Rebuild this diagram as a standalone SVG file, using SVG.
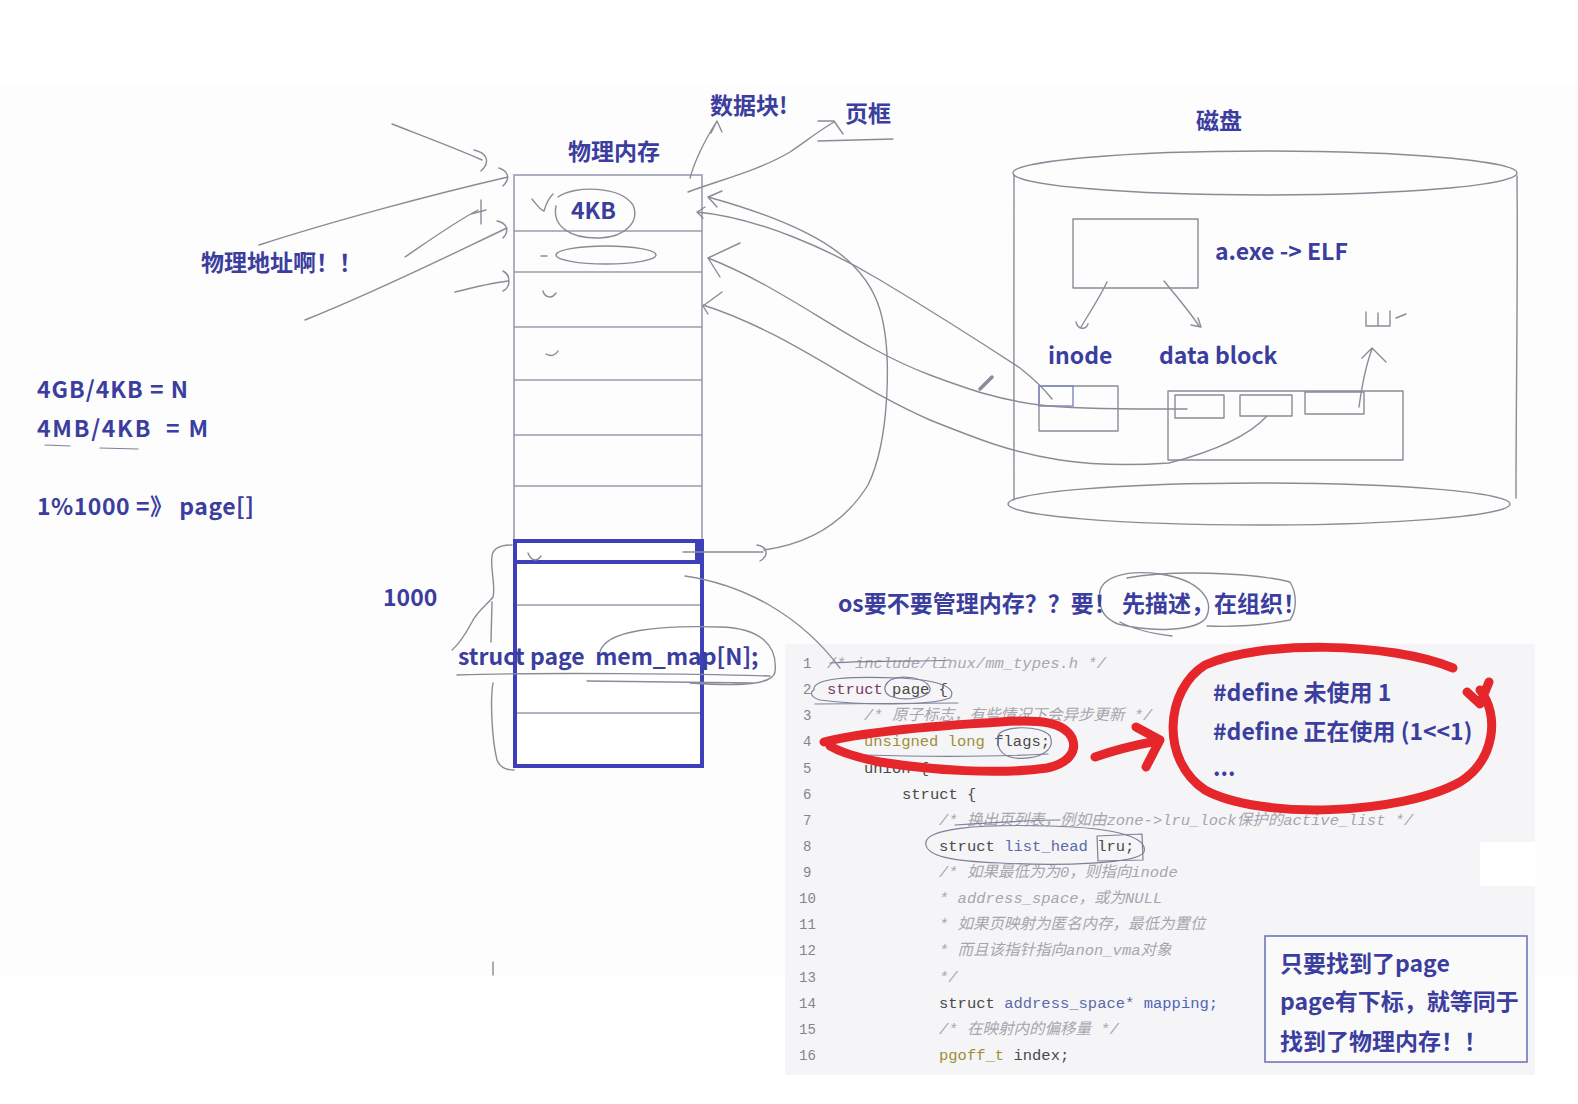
<svg xmlns="http://www.w3.org/2000/svg" width="1578" height="1104" viewBox="0 0 1578 1104">
<style>
.t{font-family:"Noto Sans CJK SC","Noto Sans",sans-serif;font-weight:700;fill:#3b3e9e;font-size:23px;white-space:pre}
.ln{fill:none;stroke:#8b8b98;stroke-width:1.4;stroke-linecap:round;stroke-linejoin:round}
.sc{fill:none;stroke:#7d8098;stroke-width:1.2;stroke-linecap:round;stroke-linejoin:round}
.box{fill:none;stroke:#9a9cae;stroke-width:1.6}
.blue{fill:none;stroke:#3d40b8;stroke-width:4}
.red{fill:none;stroke:#e5262b;stroke-width:9;stroke-linecap:round;stroke-linejoin:round}
.code{font-family:"Liberation Mono","Noto Sans CJK SC",monospace;font-size:15.5px;fill:#4a4a4a;white-space:pre}
.cm{font-style:italic;fill:#a6a6ae}
.kw{fill:#7a3a66}
.ty{fill:#a08e3a}
.id{fill:#5a6aa8}
.num{font-family:"Liberation Mono",monospace;font-size:14px;fill:#858585}
</style>
<rect width="1578" height="1104" fill="#ffffff"/>
<rect x="0" y="86" width="1578" height="890" fill="#fdfdfd"/>

<g id="code-panel">
<rect x="785" y="644" width="750" height="431" fill="#f5f5f7"/>
<rect x="1480" y="842" width="55" height="44" fill="#ffffff"/>
<g class="num">
<text x="803" y="668">1</text><text x="803" y="694">2</text><text x="803" y="720">3</text><text x="803" y="746">4</text>
<text x="803" y="773">5</text><text x="803" y="799">6</text><text x="803" y="825">7</text><text x="803" y="851">8</text>
<text x="803" y="877">9</text><text x="799" y="903">10</text><text x="799" y="929">11</text><text x="799" y="955">12</text>
<text x="799" y="982">13</text><text x="799" y="1008">14</text><text x="799" y="1034">15</text><text x="799" y="1060">16</text>
</g>
<g class="code">
<text x="827" y="668" class="cm">/* include/linux/mm_types.h */</text>
<text x="827" y="694"><tspan class="kw">struct</tspan> page {</text>
<text x="864" y="720" class="cm">/* 原子标志，有些情况下会异步更新 */</text>
<text x="864" y="746"><tspan class="ty">unsigned long</tspan> flags;</text>
<text x="864" y="773">union {</text>
<text x="902" y="799">struct {</text>
<text x="939" y="825" class="cm">/* 换出页列表，例如由zone-&gt;lru_lock保护的active_list */</text>
<text x="939" y="851">struct <tspan class="id">list_head</tspan> lru;</text>
<text x="939" y="877" class="cm">/* 如果最低为为0，则指向inode</text>
<text x="939" y="903" class="cm"> * address_space，或为NULL</text>
<text x="939" y="929" class="cm"> * 如果页映射为匿名内存，最低为置位</text>
<text x="939" y="955" class="cm"> * 而且该指针指向anon_vma对象</text>
<text x="939" y="982" class="cm"> */</text>
<text x="939" y="1008">struct <tspan class="id">address_space*</tspan> <tspan fill="#4f63b8">mapping;</tspan></text>
<text x="939" y="1034" class="cm">/* 在映射内的偏移量 */</text>
<text x="939" y="1060"><tspan class="ty">pgoff_t</tspan> index;</text>
</g>
<g class="sc">
<path d="M830,663 C880,660 920,662 950,660"/>
<path d="M814,690 C812,678 850,676 900,678 C940,680 958,688 950,698 C930,706 860,705 820,700 C810,697 810,692 814,690 Z"/>
<path d="M888,682 C895,674 925,676 930,688 C932,698 905,702 890,696 C883,692 884,686 888,682"/>
<path d="M815,704 L958,703"/>
<path d="M998,736 C1000,726 1040,724 1050,736 C1056,750 1040,760 1015,758 C1000,756 996,746 998,736"/>
<path d="M863,755 C930,757 990,757 1048,754"/>
<path d="M926,845 C922,828 980,824 1050,826 C1120,828 1148,838 1144,852 C1138,864 1060,866 1000,863 C950,861 928,856 926,845 Z"/>
<path d="M1097,836 L1142,834 L1143,860 L1098,861 Z"/>
<path d="M955,825 C1000,822 1030,820 1060,820"/>
</g>
</g>

<g id="memory">
<rect x="514" y="175" width="188" height="365" fill="#ffffff" class="box"/>
<path class="box" d="M514,231 H702 M514,272 H702 M514,327 H702 M514,380 H702 M514,435 H702 M514,486 H702"/>
<rect x="515" y="541" width="187" height="225" fill="#ffffff"/>
<path class="box" d="M517,605 H700 M517,713 H700"/>
<rect x="515" y="541" width="187" height="225" class="blue"/>
<path class="blue" d="M515,562 H700"/>
<path d="M698,541 V562" stroke="#3d40b8" stroke-width="6"/>
<path class="ln" d="M558,197 C575,185 620,186 633,205 C640,222 625,237 600,238 C570,239 552,226 556,206"/>
<path class="ln" d="M532,199 C537,205 540,210 544,211 C546,204 549,198 553,194"/>
<ellipse cx="606" cy="255" rx="50" ry="9" class="ln"/>
<path class="ln" d="M541,256 L547,256 M543,291 C545,298 552,299 556,293 M546,354 C551,357 556,355 558,351 M528,553 C531,561 537,562 541,556"/>
</g>

<g id="disk">
<ellipse cx="1265" cy="173" rx="252" ry="22" class="ln"/>
<path class="ln" d="M1014,175 C1013,280 1015,400 1014,500 M1517,176 C1518,280 1516,400 1516,498"/>
<ellipse cx="1259" cy="504" rx="251" ry="21" class="ln"/>
<rect x="1073" y="219" width="125" height="69" class="ln" fill="none"/>
<path class="ln" d="M1107,282 C1100,297 1090,312 1081,327 M1076,322 C1078,330 1086,330 1088,324 M1164,281 C1177,297 1190,312 1199,326 M1191,325 L1201,327 L1198,318"/>
<rect x="1039" y="386" width="79" height="45" class="ln" fill="none"/>
<rect x="1039" y="386" width="34" height="20" fill="none" stroke="#7f86c0" stroke-width="1.4"/>
<rect x="1168" y="391" width="235" height="69" class="ln" fill="none"/>
<rect x="1175" y="395" width="49" height="23" class="ln" fill="none"/>
<rect x="1240" y="395" width="52" height="21" class="ln" fill="none"/>
<rect x="1305" y="392" width="59" height="22" class="ln" fill="none"/>
<path class="ln" d="M1359,407 C1362,385 1366,365 1372,349 M1362,358 L1372,348 L1386,362"/>
<path class="ln" d="M1366,312 L1366,326 L1390,326 L1390,311 M1378,313 L1378,326 M1396,318 L1406,314"/>
</g>

<g id="connectors">
<path class="ln" d="M392,124 C420,135 455,148 482,160 M474,150 C487,153 491,162 481,171"/>
<path class="ln" d="M259,245 C330,222 430,195 508,177 M499,168 C508,171 511,178 503,186"/>
<path class="ln" d="M405,257 C430,240 455,222 478,210 M481,200 L481,224 M471,214 L486,210"/>
<path class="ln" d="M305,320 C380,290 450,255 507,228 M497,221 C507,223 510,231 503,238"/>
<path class="ln" d="M455,292 C475,287 492,283 508,281 M503,271 C511,275 511,287 503,291"/>
<path class="ln" d="M690,178 C695,160 705,140 717,121 M711,133 L717,121 L722,132"/>
<path class="ln" d="M688,192 C720,180 760,170 790,152 C805,142 820,130 834,122 M818,121 L834,121 L843,134 M818,141 L893,139"/>
<path class="ln" d="M683,552 L763,552 M757,545 C768,547 769,556 760,561 M764,550 C800,545 840,530 868,485 C890,440 892,350 880,310 C866,262 820,228 708,197 M708,197 L722,191 M708,197 L717,207"/>
<path class="ln" d="M697,212 C760,218 830,250 880,280 C930,310 985,345 1020,368 C1035,380 1045,390 1052,399 M697,212 L705,207 M697,212 L703,218"/>
<path class="ln" d="M708,258 C790,290 850,345 930,375 C970,390 1000,400 1040,405 C1080,410 1150,409 1187,409 M740,243 L708,258 L720,277"/>
<path class="ln" d="M703,305 C790,333 850,385 930,420 C980,440 1010,452 1060,460 C1100,466 1140,465 1169,463 C1200,455 1245,440 1267,416 M722,292 L703,306 L708,314"/>
<path d="M980,389 L992,377" stroke="#8b8b98" stroke-width="3.5" stroke-linecap="round"/>
<path class="ln" d="M685,576 C745,585 800,615 840,668"/>
<path class="ln" d="M512,545 C500,545 493,548 492,556 C490,570 496,585 493,597 C487,605 478,610 472,622 C465,635 458,645 452,650 M492,602 L491,642 M493,683 C490,700 492,740 497,760 C500,768 508,770 514,770 M493,962 L493,975"/>
<path class="ln" d="M457,675 C550,672 700,674 770,676 M587,681 L753,683 M600,652 C605,630 660,625 720,627 C760,628 778,645 775,672 C772,688 720,685 690,683"/>
<path class="ln" d="M1100,600 C1095,575 1130,570 1160,574 C1200,580 1215,600 1206,618 C1195,632 1150,632 1118,624 C1103,618 1100,608 1100,600 M1127,578 C1170,570 1250,572 1290,582 C1298,595 1296,612 1290,620 C1260,626 1230,627 1207,626 M1120,622 C1135,630 1155,634 1172,636"/>
<path class="sc" d="M45,445 L70,446 M100,448 L138,449"/>
</g>

<g id="red-marks">
<path class="red" d="M824,742 C860,733 930,726 1000,722 C1040,719 1064,722 1072,738 C1078,752 1067,764 1047,768 C1000,775 930,770 880,762 C860,758 840,752 830,746"/>
<path class="red" d="M1095,757 C1115,750 1135,745 1157,741 M1136,727 L1160,740 L1146,767"/>
<path class="red" stroke-width="8" d="M1453,668 C1390,642 1260,640 1205,665 C1165,690 1160,760 1205,790 C1260,820 1400,815 1460,782 C1495,760 1500,715 1480,690 M1467,692 L1480,704 L1489,682"/>
</g>

<g id="labels">
<text class="t" x="568" y="160">物理内存</text>
<text class="t" x="710" y="114">数据块!</text>
<text class="t" x="845" y="122">页框</text>
<text class="t" x="1196" y="129">磁盘</text>
<text class="t" x="201" y="271">物理地址啊！！</text>
<text class="t" x="571" y="219">4KB</text>
<text class="t" x="37" y="398" textLength="151" lengthAdjust="spacing">4GB/4KB = N</text>
<text class="t" x="37" y="437" textLength="171" lengthAdjust="spacing">4MB/4KB  = M</text>
<text class="t" x="37" y="515" textLength="217" lengthAdjust="spacing">1%1000 =》 page[]</text>
<text class="t" x="383" y="606">1000</text>
<text class="t" x="458" y="665">struct page  mem_map[N];</text>
<text class="t" x="838" y="612">os要不要管理内存？？要！ 先描述，在组织！</text>
<text class="t" x="1215" y="260">a.exe -&gt; ELF</text>
<text class="t" x="1048" y="364">inode</text>
<text class="t" x="1159" y="364">data block</text>
<text class="t" x="1213" y="701">#define 未使用 1</text>
<text class="t" x="1213" y="740">#define 正在使用 (1&lt;&lt;1)</text>
<text class="t" x="1213" y="776">...</text>
</g>

<g id="note">
<rect x="1265" y="936" width="262" height="126" fill="#fafafb" stroke="#6f76b8" stroke-width="1.6"/>
<text class="t" x="1280" y="972">只要找到了page</text>
<text class="t" x="1280" y="1010">page有下标，就等同于</text>
<text class="t" x="1280" y="1050">找到了物理内存！！</text>
</g>
</svg>
